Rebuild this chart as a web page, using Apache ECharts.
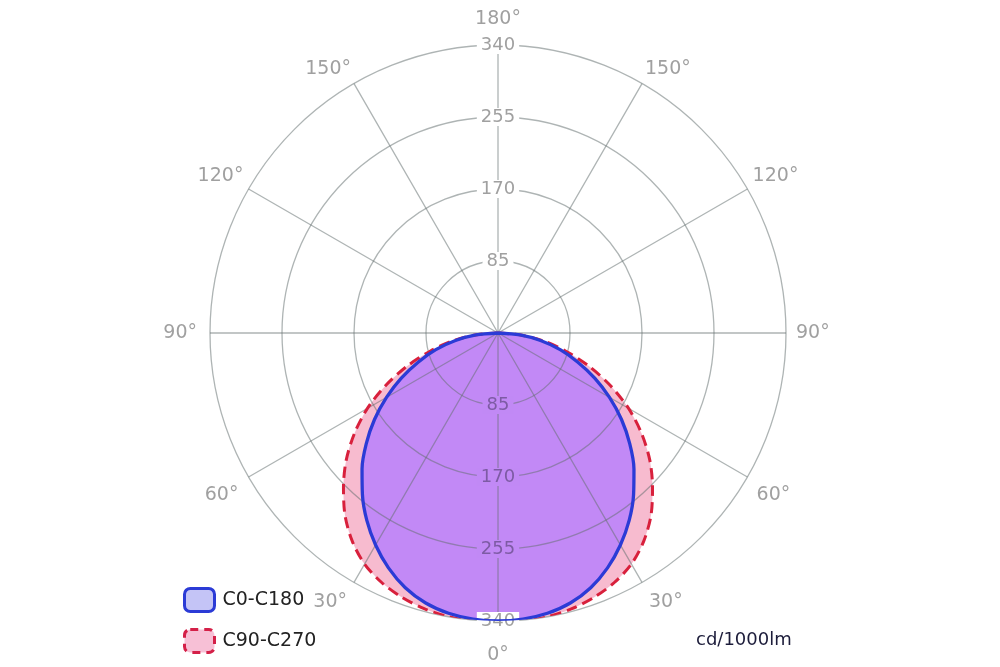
<!DOCTYPE html>
<html><head><meta charset="utf-8">
<script src="https://cdn.jsdelivr.net/npm/echarts@6/dist/echarts.min.js"></script>
<style>html,body{margin:0;padding:0;background:#fff}#c{width:1000px;height:667px}</style>
</head><body><div id="c"></div>
<script>
// gamma angles (degrees from nadir) and luminous intensity (cd/1000lm)
const gammaDeg = [0,5,10,15,20,25,30,35,40,45,50,55,60,65,70,75,80,85,90];
const c0c180  = [340,339,336,330,320,306,289,270,249,227,203,178,152,126,100,76,51,26,0];
const c90c270 = [343,342,340,337,332,325,315,300,281,258,234,207,178,146,114,83,55,27,0];
const radiusMax = 340;
const radiusStep = 85;
const angleStep = 30;
const seriesNames = ['C0-C180','C90-C270'];
const unitLabel = 'cd/1000lm';

function loop(vals){
  const pts = [];
  for (let i = gammaDeg.length - 1; i >= 0; i--) pts.push([vals[i], 360 - gammaDeg[i]]);
  for (let i = 1; i < gammaDeg.length; i++) pts.push([vals[i], gammaDeg[i]]);
  return pts;
}
const gridColor = 'rgba(100,112,112,0.52)';
const font = 'DejaVu Sans';
const lbl = {color:'#a0a0a0', fontSize:19, fontFamily:font};
function rs(p){ return Object.assign({padding:p}, lbl); }
const chart = echarts.init(document.getElementById('c'), null, {renderer:'canvas'});
chart.setOption({
  animation:false,
  backgroundColor:'#fff',
  title:{text:unitLabel, left:691, top:626, textStyle:{fontSize:18, fontWeight:'normal', color:'#1c1c3a', fontFamily:font}},
  legend:{orient:'vertical', left:178, top:582, itemWidth:30, itemHeight:23, itemGap:15, icon:'roundRect',
    textStyle:{fontSize:19, color:'#222', fontFamily:font, padding:[0,0,0,3]},
    data:[
      {name:seriesNames[0], itemStyle:{color:'#c4c4f6', borderColor:'#2b3bd6', borderWidth:3}},
      {name:seriesNames[1], itemStyle:{color:'#f7c0d6', borderColor:'#d42048', borderWidth:3, borderType:[8,6]}}
    ]},
  polar:[{center:[498,333], radius:288},{center:[498,333], radius:288}],
  angleAxis:[
    {polarIndex:0, type:'value', min:0, max:360, interval:angleStep, startAngle:270, clockwise:true, z:2,
     axisLine:{show:false}, axisTick:{show:false},
     splitLine:{show:true, lineStyle:{color:gridColor, width:1.3}},
     axisLabel:Object.assign({margin:6,
       formatter:function(v){
         const d = v <= 180 ? v : 360 - v;
         const side = v < 180 ? 'l' : 'r';
         let k = 'n';
         if (d === 0) k = 'a0';
         else if (d === 180) k = 'a180';
         else if (d <= 90) k = side + d;
         return '{' + k + '|' + d + '°}';
       },
       rich:{
         n:rs([0,0,0,0]), a0:rs([19,0,0,0]), a180:rs([0,0,10,0]),
         l30:rs([5,4,0,0]), l60:rs([6,5,0,0]), l90:rs([0,7,0,0]),
         r30:rs([5,0,0,4]), r60:rs([6,0,0,4]), r90:rs([0,0,0,4])
       }}, lbl)},
    {polarIndex:1, type:'value', min:0, max:360, startAngle:90, show:false}
  ],
  radiusAxis:[
    {polarIndex:0, type:'value', min:0, max:radiusMax, interval:radiusStep, z:2,
     axisLine:{show:false}, axisTick:{show:false},
     splitLine:{show:true, lineStyle:{color:gridColor, width:1.3}},
     axisLabel:{showMinLabel:false, margin:0, align:'center', verticalAlign:'middle', fontSize:18, fontFamily:font,
       formatter:function(v){ return v >= radiusMax ? '{w|' + v + '}' : '{p|' + v + '}'; },
       rich:{
         p:{color:'rgba(80,60,110,0.6)', fontSize:18, fontFamily:font, backgroundColor:'#c189f5', padding:[0,4]},
         w:{color:'#a0a0a0', fontSize:18, fontFamily:font, backgroundColor:'#fff', padding:[0,4]}
       }}},
    {polarIndex:1, type:'value', min:0, max:radiusMax, interval:radiusStep, z:4,
     axisLine:{show:false}, axisTick:{show:false}, splitLine:{show:false},
     axisLabel:{showMinLabel:false, margin:0, align:'center', verticalAlign:'middle', color:'#a0a0a0', fontSize:18,
       fontFamily:font, backgroundColor:'#fff', padding:[0,4]}}
  ],
  series:[
    {name:'fill90', type:'line', coordinateSystem:'polar', polarIndex:0, data:loop(c90c270), symbol:'none', smooth:0.3,
     lineStyle:{width:0, opacity:0}, areaStyle:{color:'rgba(240,120,160,0.5)', opacity:1}, z:1, silent:true},
    {name:'fill0', type:'line', coordinateSystem:'polar', polarIndex:0, data:loop(c0c180), symbol:'none', smooth:0.3,
     lineStyle:{width:0, opacity:0}, areaStyle:{color:'rgba(180,125,255,0.8)', opacity:1}, z:1, silent:true},
    {name:seriesNames[1], type:'line', coordinateSystem:'polar', polarIndex:0, data:loop(c90c270), symbol:'none', smooth:0.3,
     color:'#d42048', lineStyle:{color:'#d8203c', width:3, type:[11,6]}, z:3},
    {name:seriesNames[0], type:'line', coordinateSystem:'polar', polarIndex:0, data:loop(c0c180), symbol:'none', smooth:0.3,
     color:'#2b3bd6', lineStyle:{color:'#2b3bd6', width:3.3}, z:3}
  ]
});
</script></body></html>
